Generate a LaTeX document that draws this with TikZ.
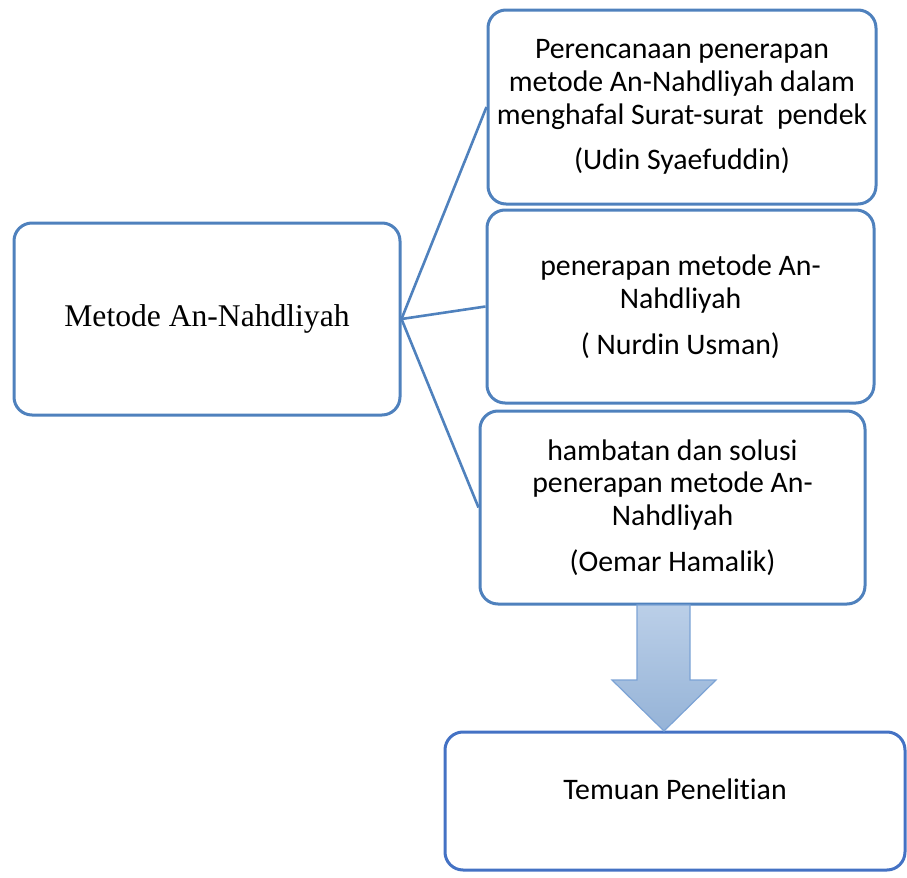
\documentclass[tikz,border=0pt]{standalone}
\usepackage{fontspec}
\setmainfont{Carlito}[Ligatures=NoCommon]
\newfontfamily\timesfont{Liberation Serif}

\definecolor{boxblue}{RGB}{79,129,189}
\definecolor{lastblue}{RGB}{68,114,196}
\definecolor{arrowtop}{RGB}{187,207,232}
\definecolor{arrowbot}{RGB}{149,179,215}
\definecolor{arrowline}{RGB}{124,163,213}

\tikzset{
  box/.style={draw=boxblue, line width=1.5pt, rounded corners=9pt, align=center,
    inner sep=0pt, font=\fontsize{14.9}{16.4}\selectfont},
  link/.style={draw=boxblue, line width=1.3pt}
}

\begin{document}
\begin{tikzpicture}[x=0.5pt,y=-0.5pt]
			%%%%% START %%%%%
			\def\gap{6.5pt}
			\useasboundingbox (0,0) rectangle (907,878);

			\node[box, minimum width=193pt, minimum height=96pt,
			  font=\timesfont\fontsize{15.8}{18}\selectfont] (method) at (207,319) {Metode An-Nahdliyah};

			\node[box, minimum width=194pt, minimum height=97pt] (plan) at (682,107)
			  {Perencanaan penerapan\\metode An-Nahdliyah dalam\\menghafal Surat-surat\ \ pendek\\[\gap](Udin Syaefuddin)};
			\node[box, minimum width=193.5pt, minimum height=96.5pt] (apply) at (680.5,306.5)
			  {penerapan metode An-\\Nahdliyah\\[\gap]( Nurdin Usman)};
			\node[box, minimum width=192.5pt, minimum height=96.5pt] (barrier) at (672.5,507.5)
			  {hambatan dan solusi\\penerapan metode An-\\Nahdliyah\\[\gap](Oemar Hamalik)};
			\node[box, draw=lastblue, minimum width=230pt, minimum height=69pt,
			  text height=11pt, text depth=13pt] (result) at (675,801) {Temuan Penelitian};

			\draw[link] (method.east) -- (plan.west);
			\draw[link] (method.east) -- (apply.west);
			\draw[link] (method.east) -- (barrier.west);

			% block arrow down to the findings
			\draw[arrowline, line width=0.6pt, top color=arrowtop, bottom color=arrowbot]
			  (637,605) -- (690,605) -- (690,680) -- (716,680) -- (664,731)
			  -- (612,680) -- (637,680) -- cycle;
			%%%%% END %%%%%
\end{tikzpicture}
\end{document}
